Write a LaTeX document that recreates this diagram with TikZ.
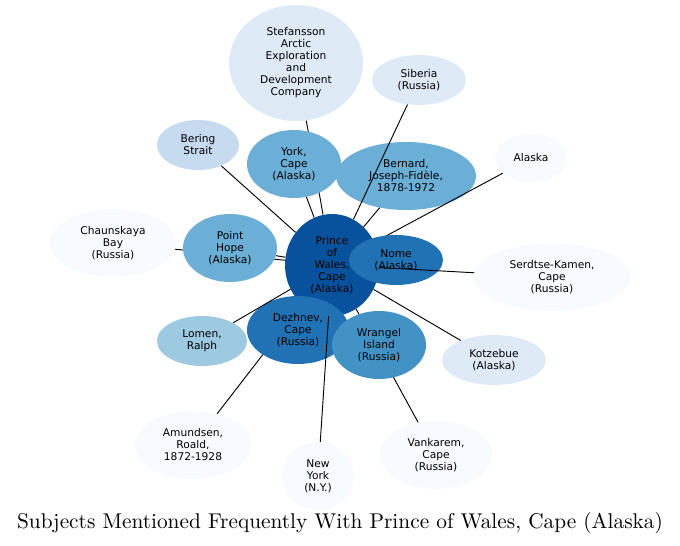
\documentclass[tikz,border=0pt]{standalone}
\usepackage{fontspec}
\setsansfont{DejaVu Sans}
\newfontfamily\titlefont{lmroman10-regular.otf}
\usepackage{xcolor}
\usepackage{tikz}
\usetikzlibrary{shapes.geometric}
\definecolor{bl1}{HTML}{F7FBFF}
\definecolor{bl2}{HTML}{DEEBF7}
\definecolor{bl3}{HTML}{C6DBEF}
\definecolor{bl4}{HTML}{9ECAE1}
\definecolor{bl5}{HTML}{6BAED6}
\definecolor{bl6}{HTML}{4292C6}
\definecolor{bl7}{HTML}{2171B5}
\definecolor{bl8}{HTML}{08519C}
\pgfdeclarelayer{background}
\pgfdeclarelayer{edgemid}
\pgfdeclarelayer{nomelayer}
\pgfdeclarelayer{foreground}
\pgfsetlayers{background,main,edgemid,nomelayer,foreground}
\tikzset{
  subj/.style={ellipse,draw=none,inner sep=0pt,align=center,
    font=\sffamily\fontsize{8}{9}\selectfont},
  esize/.style 2 args={minimum width=#1*1.5pt,minimum height=#2*1.5pt},
  elink/.style={line width=0.7pt,black},
}

\begin{document}
\begin{tikzpicture}[x=0.75pt,y=-0.75pt]
\useasboundingbox (0,0) rectangle (680,545);
\node[subj,esize={67}{58},fill=bl2] (stef) at (296,63) {Stefansson\\Arctic\\Exploration\\and\\Development\\Company};
\node[subj,esize={47}{25},fill=bl2] (sib) at (419,80) {Siberia\\(Russia)};
\node[subj,esize={41}{25},fill=bl3] (bering) at (198,145) {Bering\\Strait};
\node[subj,esize={47}{34},fill=bl5] (york) at (294,164) {York,\\Cape\\(Alaska)};
\node[subj,esize={70}{34},fill=bl5] (bern) at (406,176) {Bernard,\\Joseph-Fidèle,\\1878-1972};
\node[subj,esize={36}{24},fill=bl1] (alaska) at (531,158) {Alaska};
\node[subj,esize={63}{34},fill=bl1] (chaun) at (113,243) {Chaunskaya\\Bay\\(Russia)};
\node[subj,esize={47}{34},fill=bl5] (phope) at (230,248) {Point\\Hope\\(Alaska)};
\node[subj,esize={47}{51},fill=bl8] (prince) at (332,265) {Prince\\of\\Wales,\\Cape\\(Alaska)};
\node[subj,esize={78}{34},fill=bl1] (serd) at (552,277) {Serdtse-Kamen,\\Cape\\(Russia)};
\node[subj,esize={45}{25},fill=bl4] (lomen) at (202,341) {Lomen,\\Ralph};
\node[subj,esize={51}{34},fill=bl7] (dezh) at (298,330) {Dezhnev,\\Cape\\(Russia)};
\node[subj,esize={47}{34},fill=bl6] (wran) at (379,345) {Wrangel\\Island\\(Russia)};
\node[subj,esize={52}{25},fill=bl2] (kotz) at (494,360) {Kotzebue\\(Alaska)};
\node[subj,esize={58}{34},fill=bl1] (amund) at (193,445) {Amundsen,\\Roald,\\1872-1928};
\node[subj,esize={36}{34},fill=bl1] (nyork) at (318,476) {New\\York\\(N.Y.)};
\node[subj,esize={56}{34},fill=bl1] (vank) at (436,455) {Vankarem,\\Cape\\(Russia)};
\begin{pgfonlayer}{nomelayer}
\node[subj,esize={47}{25},fill=bl7] (nome) at (396,260) {Nome\\(Alaska)};
\end{pgfonlayer}
% links hidden behind other subjects
\begin{pgfonlayer}{background}
\draw[elink] (chaun)--(prince); \draw[elink] (stef)--(prince);
\draw[elink] (amund)--(prince); \draw[elink] (vank)--(prince);
\end{pgfonlayer}
\begin{pgfonlayer}{edgemid}
\draw[elink] (sib)--(prince); \draw[elink] (alaska)--(prince); \draw[elink] (bern)--(prince);
\draw[elink] (york)--(prince); \draw[elink] (bering)--(prince); \draw[elink] (phope)--(prince);
\end{pgfonlayer}
\begin{pgfonlayer}{foreground}
\draw[elink] (serd)--(prince); \draw[elink] (kotz)--(prince);
\draw[elink] (lomen)--(prince); \draw[elink] (nyork)--(prince);
\end{pgfonlayer}
\node[font=\titlefont\fontsize{16}{19}\selectfont] (title) at (340,523) {Subjects Mentioned Frequently With Prince of Wales, Cape (Alaska)};
\end{tikzpicture}
\end{document}
